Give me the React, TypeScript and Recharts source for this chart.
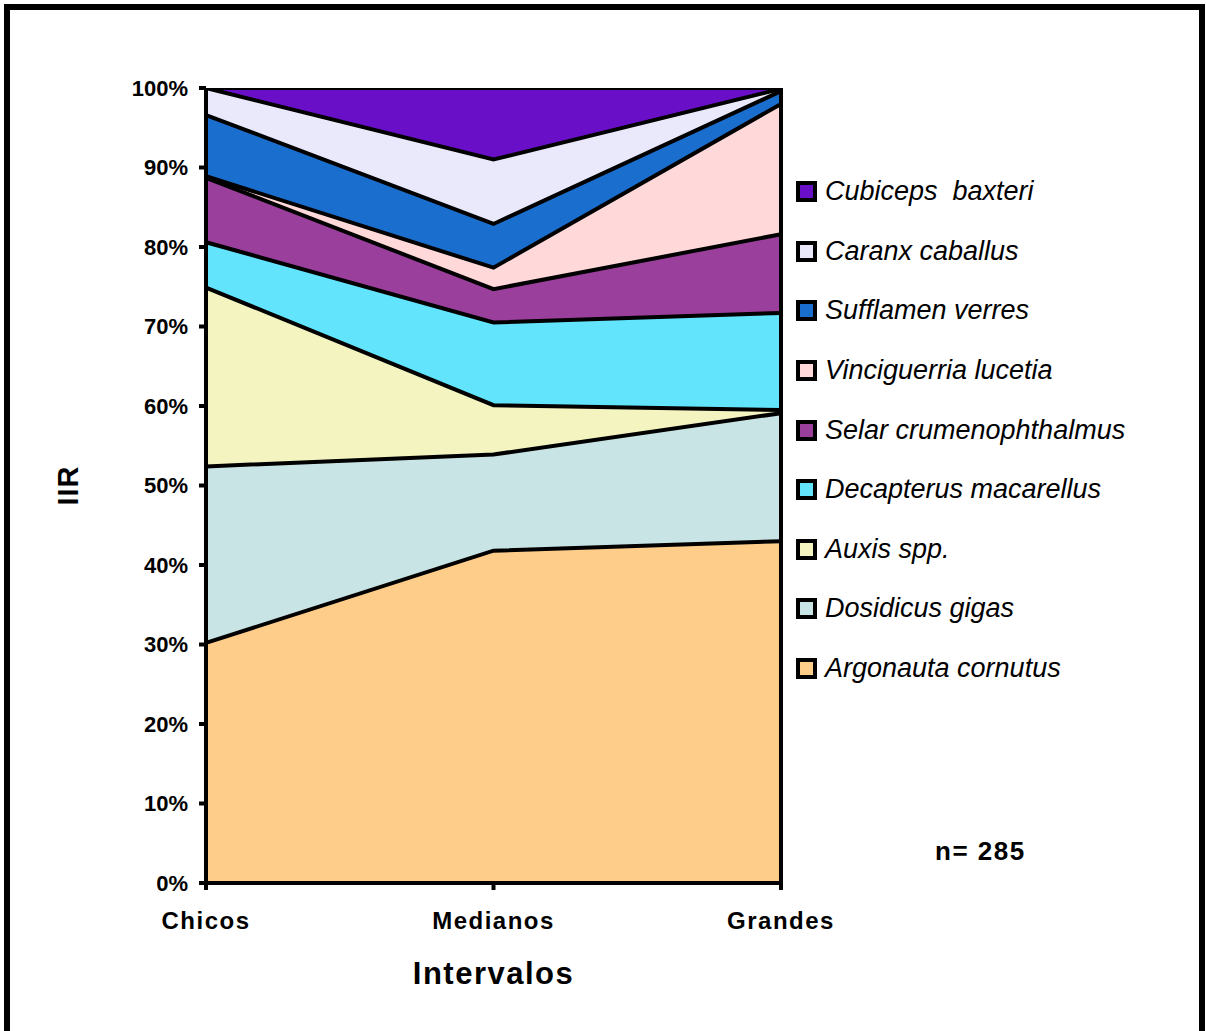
import React from 'react';
import { AreaChart, Area, XAxis, YAxis, ReferenceLine } from 'recharts';

// intervalos de talla
const categories = ['Chicos', 'Medianos', 'Grandes'];

// IIR (%) por presa, de abajo hacia arriba en la pila
const argonauta = [30.2, 41.8, 43.0];
const dosidicus = [22.2, 12.1, 16.1];
const auxis = [22.5, 6.2, 0.4];
const decapterus = [5.7, 10.4, 12.2];
const selar = [8.1, 4.2, 9.9];
const vinciguerria = [0.2, 2.7, 16.4];
const sufflamen = [7.7, 5.5, 1.6];
const caranx = [3.4, 8.1, 0.3];
const cubiceps = [0, 9.0, 0.1];

const yTicks = [0, 10, 20, 30, 40, 50, 60, 70, 80, 90, 100];

const species = [
  { key: 'argonauta', name: 'Argonauta cornutus', color: '#fecd8a', values: argonauta },
  { key: 'dosidicus', name: 'Dosidicus gigas', color: '#c9e4e4', values: dosidicus },
  { key: 'auxis', name: 'Auxis spp.', color: '#f4f4c0', values: auxis },
  { key: 'decapterus', name: 'Decapterus macarellus', color: '#62e4fc', values: decapterus },
  { key: 'selar', name: 'Selar crumenophthalmus', color: '#9a3f9c', values: selar },
  { key: 'vinciguerria', name: 'Vinciguerria lucetia', color: '#ffd9d9', values: vinciguerria },
  { key: 'sufflamen', name: 'Sufflamen verres', color: '#1a6fce', values: sufflamen },
  { key: 'caranx', name: 'Caranx caballus', color: '#e9e9fb', values: caranx },
  { key: 'cubiceps', name: 'Cubiceps  baxteri', color: '#6a0fc8', values: cubiceps },
];

const rows = categories.map((name, i) => {
  const row: Record<string, any> = { name };
  species.forEach((s) => { row[s.key] = s.values[i]; });
  return row;
});

const FONT = '"Liberation Sans", Arial, Helvetica, sans-serif';

// leyenda a la derecha, orden inverso a la pila
const LegendBox = () => (
  <div style={{ position: 'absolute', left: 796, top: 162, fontFamily: FONT }}>
    {[...species].reverse().map((s) => (
      <div key={s.key} style={{ height: 59.6, display: 'flex', alignItems: 'center' }}>
        <div style={{ width: 21, height: 21, boxSizing: 'border-box', border: '4px solid #000', background: s.color }} />
        <span style={{ marginLeft: 8, fontSize: 27, fontStyle: 'italic', color: '#000', whiteSpace: 'pre' }}>{s.name}</span>
      </div>
    ))}
  </div>
);

const YTitle = ({ viewBox }: any) => {
  const cx = viewBox.x + 68;
  const cy = viewBox.y + viewBox.height / 2;
  return (
    <text x={cx} y={cy} transform={`rotate(-90, ${cx}, ${cy})`} textAnchor="middle" dominantBaseline="central"
      fontFamily={FONT} fontSize={29} fontWeight={700} letterSpacing={1} fill="#000">
      IIR
    </text>
  );
};

export default function App() {
  return (
    <div style={{ position: 'absolute', left: 0, top: 0, width: 1206, height: 1031, background: '#fff', overflow: 'hidden' }}>
      <div style={{ position: 'absolute', left: 4, top: 4, width: 1189, height: 1100, border: '6px solid #000' }} />
      <div style={{ position: 'absolute', left: 0, top: 0 }}>
        <AreaChart width={1206} height={1031} data={rows} margin={{ top: 88, right: 425, bottom: 0, left: 0 }}>
          <XAxis
            dataKey="name"
            height={148}
            interval={0}
            tickSize={7}
            tickMargin={22}
            axisLine={{ stroke: '#000', strokeWidth: 4 }}
            tickLine={{ stroke: '#000', strokeWidth: 4 }}
            tick={{ fill: '#000', fontSize: 24, fontWeight: 700, fontFamily: FONT, letterSpacing: 1.5 }}
            label={{ value: 'Intervalos', position: 'insideBottom', offset: 47, fill: '#000', fontSize: 31, fontWeight: 700, fontFamily: FONT, letterSpacing: 1.5 }}
          />
          <YAxis
            type="number"
            domain={[0, 100]}
            ticks={yTicks}
            tickFormatter={(v) => `${v}%`}
            width={206}
            tickSize={7}
            tickMargin={11}
            allowDataOverflow
            axisLine={{ stroke: '#000', strokeWidth: 4 }}
            tickLine={{ stroke: '#000', strokeWidth: 4 }}
            tick={{ fill: '#000', fontSize: 22, fontWeight: 700, fontFamily: FONT }}
            label={{ content: <YTitle /> }}
          />
          {/* rellenos */}
          {species.map((s) => (
            <Area
              key={s.key}
              type="linear"
              dataKey={s.key}
              name={s.name}
              stackId="fill"
              stroke="none"
              fill={s.color}
              fillOpacity={1}
              isAnimationActive={false}
            />
          ))}
          {/* bordes negros encima de todos los rellenos */}
          {species.map((s) => (
            <Area
              key={`${s.key}-line`}
              type="linear"
              dataKey={s.key}
              stackId="line"
              stroke="#000"
              strokeWidth={4}
              fill="none"
              isAnimationActive={false}
            />
          ))}
          <ReferenceLine x="Grandes" stroke="#000" strokeWidth={4} />
        </AreaChart>
      </div>
      <LegendBox />
      <div style={{ position: 'absolute', left: 935, top: 836, fontFamily: FONT, fontSize: 26, fontWeight: 700, letterSpacing: 1.5, color: '#000', lineHeight: '30px' }}>
        n= 285
      </div>
    </div>
  );
}
